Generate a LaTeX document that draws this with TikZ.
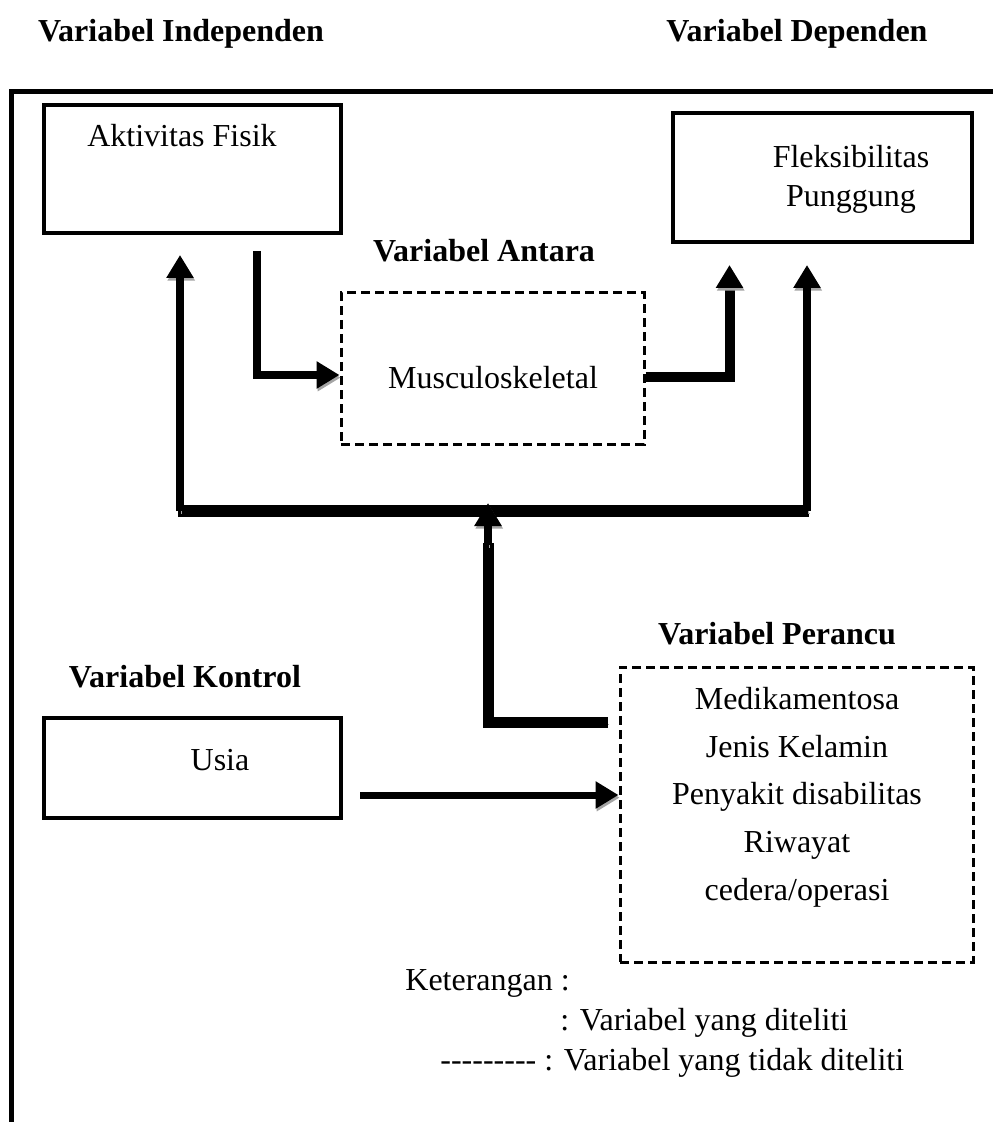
\documentclass[tikz,border=0pt]{standalone}
\usepackage{fontspec}
\setmainfont{Liberation Serif}
\usepackage{xcolor}
\definecolor{shade}{RGB}{165,165,165}
\usepackage{tikz}
\usetikzlibrary{
    arrows.meta,
    positioning,
    calc,
    fit
}
\newcommand{\dashrun}{-\kern0pt-\kern0pt-\kern0pt-\kern0pt-\kern0pt-\kern0pt-\kern0pt-\kern0pt-}

\begin{document}
\begin{tikzpicture}[x=0.5pt, y=-0.5pt,
        every node/.style={font=\fontsize{16}{19}\selectfont, inner sep=0pt},
        title/.style={font=\fontsize{16}{19}\selectfont\bfseries, anchor=base},
        label/.style={anchor=base},
        solidbox/.style={rectangle, draw, line width=1.6pt, inner sep=0pt},
        dashbox/.style={rectangle, draw, line width=1.5pt, dash pattern=on 4.5pt off 2.5pt, inner sep=0pt},
        shadowed/.style={preaction={draw=shade, transform canvas={xshift=0.6pt, yshift=-1.3pt}}},
        arrow/.style={-{Triangle[length=11.5pt, width=13pt]}, line width=4pt, shadowed},
        bar/.style={line width=#1, shadowed}
    ]
        \useasboundingbox (0,0) rectangle (992,1122);

        % judul kolom
        \node[title] (indep) at (181,42) {Variabel Independen};
        \node[title] (dep) at (797,42) {Variabel Dependen};

        % bingkai
        \draw[line width=2.4pt] (11.5,1130) -- (11.5,91.5) -- (1000,91.5);

        % kotak variabel
        \node[solidbox, fit={(44,105) (341,233)}] (fisik) {};
        \node[label] (fisiktxt) at (182,147) {Aktivitas Fisik};
        \node[solidbox, fit={(673,113) (972,242)}] (fleks) {};
        \node[label] (flekstxt1) at (851,168) {Fleksibilitas};
        \node[label] (flekstxt2) at (851,207) {Punggung};

        \node[title] (antara) at (484,262) {Variabel Antara};
        \node[dashbox, fit={(341,293) (644,444)}] (muskulo) {};
        \node[label] (muskulotxt) at (493,388) {Musculoskeletal};

        \node[title] (perancu) at (777,644) {Variabel Perancu};
        \node[dashbox, fit={(620,667) (973,962)}] (confound) {};
        \node[label] (p1) at (797,709) {Medikamentosa};
        \node[label] (p2) at (797,757) {Jenis Kelamin};
        \node[label] (p3) at (797,804) {Penyakit disabilitas};
        \node[label] (p4) at (797,852) {Riwayat};
        \node[label] (p5) at (797,900) {cedera/operasi};

        \node[title] (kontrol) at (185,687) {Variabel Kontrol};
        \node[solidbox, fit={(44,718) (341,818)}] (usia) {};
        \node[label] (usiatxt) at (220,770) {Usia};

        % titik bebas
        \coordinate (a1) at (257,251);
        \coordinate (a2) at (729.5,265);
        \coordinate (tipL) at (180,255);
        \coordinate (tipR) at (807,265);
        \coordinate (busL) at (180,511);
        \coordinate (busR) at (807,511);
        \coordinate (busM) at (488,503);
        \coordinate (c1) at (608,722);
        \coordinate (u1) at (360,795);

        % panah
        \draw[arrow] (a1) |- (muskulo.west |- 0,375);
        \draw[bar=5pt] (muskulo.east |- 0,377) -| ($(a2)+(0,20)$);
        \draw[arrow] ($(a2)+(0,22)$) -- (a2);
        \draw[bar=6pt] ($(busL)+(-2,0)$) -- ($(busR)+(2,0)$);
        \draw[arrow] (busL) -- (tipL);
        \draw[arrow] (busR) -- (tipR);
        \draw[bar=5.5pt] (c1) -| ($(busM)+(0,40)$);
        \draw[arrow] ($(busM)+(0,42)$) -- (busM);
        \draw[arrow, line width=3.5pt] (u1) -- (confound.west |- u1);

        % keterangan
        \node[anchor=base west] (ket) at (405,990) {Keterangan :};
        \node[anchor=base west] (ket1) at (560,1030) {: Variabel yang diteliti};
        \node[anchor=base west] (ket2) at (440,1070) {\dashrun{} : Variabel yang tidak diteliti};
    \end{tikzpicture}
\end{document}
